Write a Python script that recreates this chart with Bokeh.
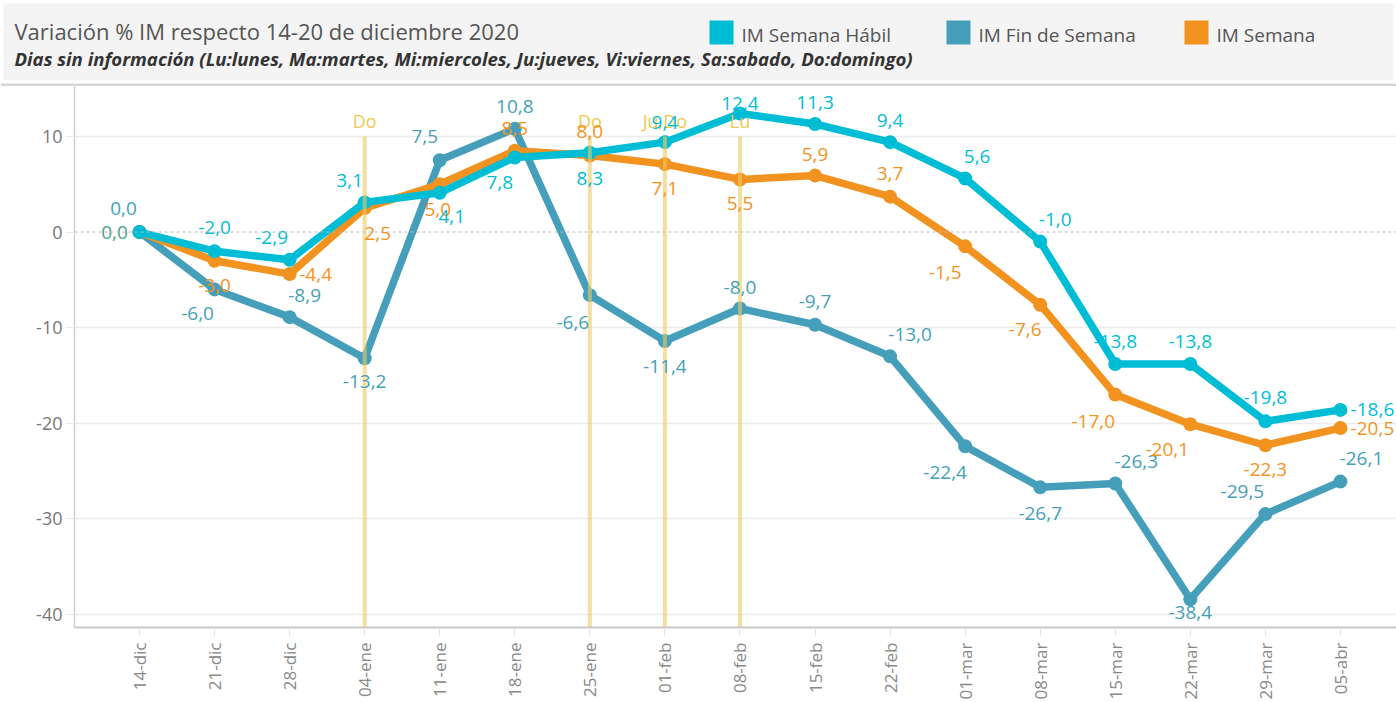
import math
from bokeh.plotting import figure
from bokeh.models import ColumnDataSource, Range1d, FixedTicker, Span
from bokeh.core.properties import value
from bokeh.embed import file_html
from bokeh.resources import INLINE

# ---------------- data ----------------
fechas = ["14-dic", "21-dic", "28-dic", "04-ene", "11-ene", "18-ene", "25-ene", "01-feb",
          "08-feb", "15-feb", "22-feb", "01-mar", "08-mar", "15-mar", "22-mar", "29-mar", "05-abr"]
im_semana_habil = [0.0, -2.0, -2.9, 3.1, 4.1, 7.8, 8.3, 9.4, 12.4, 11.3, 9.4, 5.6, -1.0,
                   -13.8, -13.8, -19.8, -18.6]
im_fin_de_semana = [0.0, -6.0, -8.9, -13.2, 7.5, 10.8, -6.6, -11.4, -8.0, -9.7, -13.0, -22.4,
                    -26.7, -26.3, -38.4, -29.5, -26.1]
im_semana = [0.0, -3.0, -4.4, 2.5, 5.0, 8.5, 8.0, 7.1, 5.5, 5.9, 3.7, -1.5, -7.6, -17.0,
             -20.1, -22.3, -20.5]
dias_sin_info_fecha = ["04-ene", "25-ene", "01-feb", "08-feb"]
dias_sin_info_texto = ["Do", "Do", "Ju,Do", "Lu"]
y_ticks = [-40, -30, -20, -10, 0, 10]
series_nombres = ["IM Semana Hábil", "IM Fin de Semana", "IM Semana"]

titulo = "Variación % IM respecto 14-20 de diciembre 2020"
subtitulo = ("Dias sin información (Lu:lunes, Ma:martes, Mi:miercoles, Ju:jueves, "
             "Vi:viernes, Sa:sabado, Do:domingo)")

# ---------------- styles ----------------
FONT = "Open Sans"
C_HABIL = "#00bdd6"
C_FIN = "#459fba"
C_SEM = "#f2931f"
C_MARK = "#eeca61"

# label offsets (screen px) for each point
off_habil = [(-25, 0), (0, -24), (-18, -22), (-15, -22), (12, 24), (-15, 25), (0, 26), (0, -20),
             (0, -10), (0, -21), (0, -22), (12, -22), (15, -22), (0, -22), (0, -22), (0, -24),
             (32, 0)]
off_sem = [(-25, 0), (0, 25), (26, 0), (13, 25), (-2, 25), (0, -22), (0, -24), (0, 24),
           (0, 24), (0, -21), (0, -23), (-20, 26), (-15, 25), (-22, 27), (-23, 25), (0, 24),
           (32, 0)]
off_fin = [(-16, -24), (-17, 24), (15, -22), (0, 23), (-15, -24), (0, -22), (-17, 27), (0, 25),
           (0, -21), (0, -23), (20, -22), (-20, 26), (0, 26), (21, -22), (0, 13), (-23, -23),
           (21, -23)]
alpha_habil = [0.75] + [1.0] * 16

W = 1396
HEADER_H = 86
CHART_H = 616

# ---------------- header ----------------
hdr = figure(width=W, height=HEADER_H, x_range=Range1d(0, W), y_range=Range1d(HEADER_H, 0),
             toolbar_location=None, output_backend="svg", min_border=0,
             x_axis_type=None, y_axis_type=None)
hdr.grid.visible = False
hdr.outline_line_color = None
hdr.background_fill_color = "white"
hdr.border_fill_color = "white"
hdr.quad(left=3, right=1393, top=3, bottom=80, fill_color="#f4f4f4", line_color=None)
hdr.quad(left=0, right=W, top=83, bottom=86, fill_color="#d6d6d6", line_color=None)
hdr.text(x=[14], y=[30], text=[titulo], text_font=value(FONT), text_font_size="22px",
         text_color="#555555", text_baseline="middle", text_align="left")
hdr.text(x=[14], y=[58], text=[subtitulo], text_font=value(FONT), text_font_size="18.6px",
         text_font_style="bold italic", text_color="#333333", text_baseline="middle",
         text_align="left")
leg_x = [709, 946, 1184]
leg_cols = [C_HABIL, C_FIN, C_SEM]
hdr.quad(left=leg_x, right=[x + 24 for x in leg_x], top=[20] * 3, bottom=[44] * 3,
         fill_color=leg_cols, line_color=None)
hdr.text(x=[x + 32 for x in leg_x], y=[34] * 3, text=series_nombres, text_font=value(FONT),
         text_font_size="19px", text_color="#555555", text_baseline="middle", text_align="left")

# ---------------- chart ----------------
n = len(fechas)
xs = list(range(n))
p = figure(width=W, height=CHART_H, x_range=Range1d(-0.866, 16.747),
           y_range=Range1d(-41.36, 15.22), toolbar_location=None, output_backend="svg",
           min_border_left=74, min_border_right=0, min_border_top=0, min_border_bottom=74)
p.outline_line_color = None
p.background_fill_color = "white"
p.border_fill_color = "white"

p.xaxis.ticker = FixedTicker(ticks=xs)
p.xaxis.major_label_overrides = {i: f for i, f in enumerate(fechas)}
p.xaxis.major_label_orientation = math.pi / 2
p.xaxis.axis_line_color = "#c8c8c8"
p.xaxis.axis_line_width = 2
p.xaxis.major_tick_line_color = "#e2e2e2"
p.xaxis.major_tick_out = 8
p.xaxis.major_tick_in = 0
p.xaxis.minor_tick_line_color = None
p.xaxis.major_label_text_font = FONT
p.xaxis.major_label_text_font_size = "17px"
p.xaxis.major_label_text_color = "#888888"
p.xaxis.major_label_standoff = 7

p.yaxis.ticker = FixedTicker(ticks=y_ticks)
p.yaxis.major_label_overrides = {t: str(t) for t in y_ticks}
p.yaxis.axis_line_color = "#d0d0d0"
p.yaxis.axis_line_width = 1.5
p.yaxis.major_tick_line_color = "#e8e8e8"
p.yaxis.major_tick_out = 8
p.yaxis.major_tick_in = 0
p.yaxis.minor_tick_line_color = None
p.yaxis.major_label_text_font = FONT
p.yaxis.major_label_text_font_size = "18px"
p.yaxis.major_label_text_color = "#777777"
p.yaxis.major_label_standoff = 4

p.xgrid.visible = False
p.ygrid.ticker = FixedTicker(ticks=[t for t in y_ticks if t != 0])
p.ygrid.grid_line_color = "#ececec"
p.ygrid.grid_line_width = 1.5
p.add_layout(Span(location=0, dimension="width", line_color="#b8b8b8", line_dash="3 3",
                  line_width=1))

for vals, col in [(im_fin_de_semana, C_FIN), (im_semana, C_SEM), (im_semana_habil, C_HABIL)]:
    src = ColumnDataSource(dict(x=xs, y=vals))
    p.line("x", "y", source=src, line_width=7.5, line_color=col, line_join="round")
    p.scatter("x", "y", source=src, size=14, fill_color=col, line_color=None)

# days without information markers
mark_x = [fechas.index(f) for f in dias_sin_info_fecha]
p.segment(x0=mark_x, y0=[10] * len(mark_x), x1=mark_x, y1=[-41.36] * len(mark_x),
          line_color=C_MARK, line_width=4, line_alpha=0.6)
p.text(x=mark_x, y=[10] * len(mark_x), text=dias_sin_info_texto, y_offset=-15,
       text_font=value(FONT), text_font_size="18px", text_color="#f0c850",
       text_align="center", text_baseline="middle")


def fmt(v):
    return f"{v:.1f}".replace(".", ",")


for vals, col, offs, al in [(im_fin_de_semana, C_FIN, off_fin, [1.0] * n),
                            (im_semana, C_SEM, off_sem, [1.0] * n),
                            (im_semana_habil, C_HABIL, off_habil, alpha_habil)]:
    src = ColumnDataSource(dict(x=xs, y=vals, t=[fmt(v) for v in vals],
                                dx=[o[0] for o in offs], dy=[o[1] for o in offs], a=al))
    p.text("x", "y", text="t", x_offset="dx", y_offset="dy", source=src, text_alpha="a",
           text_font=value(FONT), text_font_size="19px", text_color=col,
           text_align="center", text_baseline="middle")

open("out.html", "w").write(file_html([hdr, p], INLINE))
